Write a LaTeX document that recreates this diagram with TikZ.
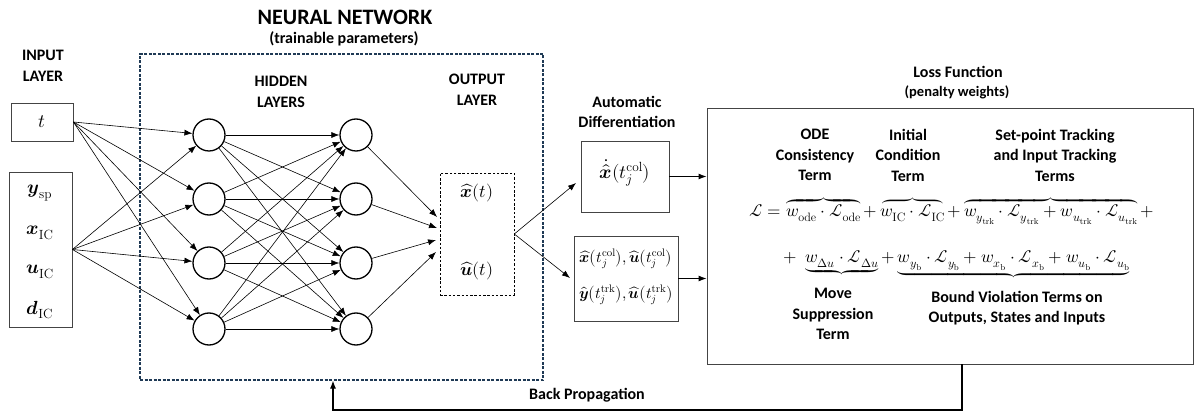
\documentclass[tikz,border=0pt]{standalone}
\usepackage{amsmath}
\usepackage{unicode-math}
\setmathfont{Latin Modern Math}
\newfontfamily\labfont{Carlito}
\usetikzlibrary{arrows.meta,calc}
\definecolor{navy}{HTML}{1F3A55}
\definecolor{boxgray}{HTML}{444444}
\begin{document}
\begin{tikzpicture}[x=1pt,y=-1pt,
  lbl/.style={font=\labfont\bfseries\fontsize{16}{20.5}\selectfont, align=center, inner sep=0pt},
  neuron/.style={circle, draw, line width=1.3pt, minimum size=32pt, inner sep=0pt},
  gbox/.style={draw=boxgray, line width=0.9pt, inner sep=0pt},
  mtxt/.style={font=\fontsize{17.3}{20}\selectfont, inner sep=0pt},
  bigm/.style={font=\fontsize{19}{22}\selectfont, inner sep=0pt},
  arr/.style={-{Latex[length=8pt,width=6pt]}, line width=0.6pt},
  barr/.style={-{Latex[length=8pt,width=6pt]}, line width=1.1pt}]
\useasboundingbox (0,0) rectangle (1198,419);

% titles
\node[lbl, font=\labfont\bfseries\fontsize{22}{26}\selectfont] (title) at (345,17) {NEURAL NETWORK};
\node[lbl] (sub) at (344,39) {(trainable parameters)};
\node[lbl] (inl) at (43,66) {INPUT\\LAYER};
\node[lbl] (hidl) at (281,92) {HIDDEN\\LAYERS};
\node[lbl] (outl) at (477,90) {OUTPUT\\LAYER};
\node[lbl] (adl) at (627,112) {Automatic\\Differentiation};
\node[lbl] (lossl) at (958,72) {Loss Function};
\node[lbl, font=\labfont\bfseries\fontsize{14.5}{17}\selectfont] (pen) at (957,92) {(penalty weights)};

% NN dashed box
\node[draw=navy, line width=1.2pt, dash pattern=on 3pt off 1.5pt, minimum width=403pt, minimum height=326pt, inner sep=0pt] (nn) at (341.5,217) {};

% input boxes
\node[gbox, minimum width=62pt, minimum height=38pt] (tin) at (42,122) {};
\node[bigm] (tlab) at (42,122) {$t$};
\node[gbox, minimum width=63pt, minimum height=155pt] (in2) at (40.5,249.5) {};
\node[bigm] (ysp) at (40,193) {$\symbfit{y}_{\mathrm{sp}}$};
\node[bigm] (xic) at (40,233) {$\symbfit{x}_{\mathrm{IC}}$};
\node[bigm] (uic) at (40,272) {$\symbfit{u}_{\mathrm{IC}}$};
\node[bigm] (dic) at (40,310) {$\symbfit{d}_{\mathrm{IC}}$};

% neurons
\foreach \i/\yy in {1/135,2/199,3/263,4/329} {
  \node[neuron] (ha\i) at (209,\yy) {};
  \node[neuron] (hb\i) at (356,\yy) {};
}

% output box
\node[draw, line width=0.6pt, dash pattern=on 2.5pt off 1.8pt, minimum width=74pt, minimum height=122pt, inner sep=0pt] (out) at (477,234) {};
\node[bigm, font=\fontsize{18}{21}\selectfont] (xh) at (477,193) {$\widehat{\symbfit{x}}(t)$};
\node[bigm, font=\fontsize{18}{21}\selectfont] (uh) at (477,271) {$\widehat{\symbfit{u}}(t)$};
\coordinate (o1) at (437,217);
\coordinate (o2) at (437,228);
\coordinate (o3) at (436,240);
\coordinate (o4) at (436,252);

% AD boxes
\node[gbox, minimum width=88pt, minimum height=71pt] (ad) at (625,176.5) {};
\node[bigm] (adt) at (625,173) {$\dot{\hat{\symbfit{x}}}(t_j^{\mathrm{col}})$};
\node[gbox, minimum width=104pt, minimum height=85pt] (b2) at (626,278.5) {};
\node[mtxt, font=\fontsize{15.5}{18}\selectfont] (b2a) at (626,259) {$\widehat{\symbfit{x}}\bigl(t_j^{\mathrm{col}}\bigr), \widehat{\symbfit{u}}\bigl(t_j^{\mathrm{col}}\bigr)$};
\node[mtxt, font=\fontsize{15.5}{18}\selectfont] (b2b) at (626,295) {$\widehat{\symbfit{y}}\bigl(t_j^{\mathrm{trk}}\bigr), \widehat{\symbfit{u}}\bigl(t_j^{\mathrm{trk}}\bigr)$};
\coordinate (adin) at (576,183);
\coordinate (b2in) at (570,278);

% loss box
\node[gbox, minimum width=486pt, minimum height=256pt] (loss) at (950,236) {};
\node[lbl] (h1) at (815,155) {ODE\\Consistency\\Term};
\node[lbl] (h2) at (908,155) {Initial\\Condition\\Term};
\node[lbl] (h3) at (1055,155) {Set-point Tracking\\and Input Tracking\\Terms};
\node[mtxt, anchor=base] (eq1) at (952,217) {$\mathcal{L} = \overbrace{w_{\mathrm{ode}}\cdot\mathcal{L}_{\mathrm{ode}}} + \overbrace{w_{\mathrm{IC}}\cdot\mathcal{L}_{\mathrm{IC}}} + \overbrace{w_{y_{\mathrm{trk}}}\cdot\mathcal{L}_{y_{\mathrm{trk}}} + w_{u_{\mathrm{trk}}}\cdot\mathcal{L}_{u_{\mathrm{trk}}}} +$};
\node[mtxt, anchor=base] (eq2) at (957,263) {$+\ \underbrace{w_{\mitDelta u}\cdot\mathcal{L}_{\mitDelta u}} + \underbrace{w_{y_{\mathrm{b}}}\cdot\mathcal{L}_{y_{\mathrm{b}}} + w_{x_{\mathrm{b}}}\cdot\mathcal{L}_{x_{\mathrm{b}}} + w_{u_{\mathrm{b}}}\cdot\mathcal{L}_{u_{\mathrm{b}}}}$};
\node[lbl] (f1) at (833,314) {Move\\Suppression\\Term};
\node[lbl] (f2) at (1017,308) {Bound Violation Terms on\\Outputs, States and Inputs};

% connectors
\foreach \i in {1,...,4} {
  \draw[arr] (tin.east) -- (ha\i);
  \draw[arr] (in2.east) -- (ha\i);
  \foreach \j in {1,...,4} { \draw[arr] (ha\i) -- (hb\j); }
  \draw[arr] (hb\i) -- (o\i);
}
\draw[arr] (out.east) -- (adin);
\draw[arr] (out.east) -- (b2in);
\draw[barr] (ad.east) -- (ad.east -| loss.west);
\draw[barr] (b2.east) -- (b2.east -| loss.west);

% back propagation
\coordinate (bp1) at (962,410);
\coordinate (bp2) at (333,410);
\draw[barr] (bp1 |- loss.south) -- (bp1) -- (bp2) -- (bp2 |- nn.south);
\node[lbl] (bpl) at (587,395) {Back Propagation};
\end{tikzpicture}
\end{document}
